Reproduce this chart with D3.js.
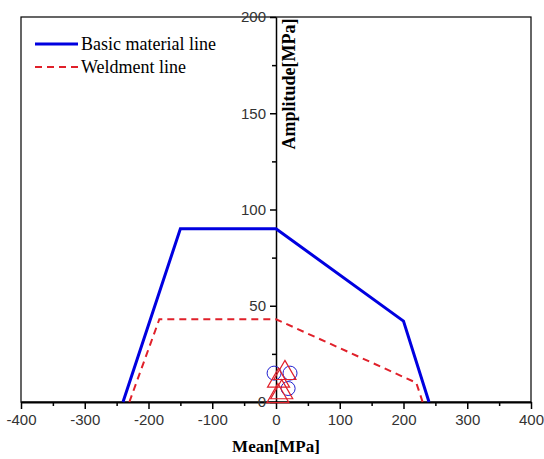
<!DOCTYPE html>
<html>
<head>
<meta charset="utf-8">
<script src="https://cdn.jsdelivr.net/npm/d3@7"></script>
<style>
  body { margin: 0; background: #fff; }
  svg { display: block; }
</style>
</head>
<body>
<svg id="chart" width="544" height="459"></svg>
<script>
// Haigh diagram data (Mean, Amplitude) in MPa
const baseMean = [-240, -150, 0, 200, 240];
const baseAmp = [0, 90, 90, 42, 0];
const weldMean = [-230, -183, 0, 220, 230];
const weldAmp = [0, 43, 43, 10, 0];
const circleMean = [-3, 22, 19];
const circleAmp = [15, 15, 7];
const triMean = [14, 4, 9, 3];
const triAmp = [15, 11, 5, 3];
const xTicks = [-400, -300, -200, -100, 0, 100, 200, 300, 400];
const yTicks = [0, 50, 100, 150, 200];
const legendLabels = ["Basic material line", "Weldment line"];

const svg = d3.select("#chart"),
    margin = { top: 17, right: 13, bottom: 57, left: 21 },
    width = +svg.attr("width") - margin.left - margin.right,
    height = +svg.attr("height") - margin.top - margin.bottom;

const g = svg.append("g")
    .attr("transform", "translate(" + margin.left + "," + margin.top + ")");

const xScale = d3.scaleLinear().domain([-400, 400]).range([0, width]);
const yScale = d3.scaleLinear().domain([0, 200]).range([height, 0]);

// frame
g.append("rect")
    .attr("width", width)
    .attr("height", height)
    .attr("fill", "none")
    .attr("stroke", "#000")
    .attr("stroke-width", 1.2);

// x axis: major + minor ticks
const xAxis = g.append("g")
    .attr("transform", "translate(0," + height + ")")
    .call(d3.axisBottom(xScale).tickValues(xTicks).tickFormat(d => String(d))
        .tickSize(7).tickPadding(5).tickSizeOuter(0));
g.append("g")
    .attr("transform", "translate(0," + height + ")")
    .call(d3.axisBottom(xScale).tickValues(d3.range(-350, 400, 100)).tickSize(4).tickFormat("").tickSizeOuter(0));
xAxis.select(".domain").attr("stroke-width", 2);

// y axis at Mean = 0
const yAxis = g.append("g")
    .attr("transform", "translate(" + xScale(0) + ",0)")
    .call(d3.axisLeft(yScale).tickValues(yTicks).tickFormat(d => String(d))
        .tickSize(6).tickPadding(4).tickSizeOuter(0));
g.append("g")
    .attr("transform", "translate(" + xScale(0) + ",0)")
    .call(d3.axisLeft(yScale).tickValues([25, 75, 125, 175]).tickSize(4).tickFormat("").tickSizeOuter(0));
yAxis.select(".domain").attr("stroke-width", 1.5);

g.selectAll(".tick line").attr("stroke-width", 1.5);
g.selectAll(".tick text")
    .style("font-family", "'Liberation Sans', Arial, sans-serif")
    .style("font-size", "15px")
    .attr("fill", "#333");

// lines
const line = d3.line().x(d => xScale(d[0])).y(d => yScale(d[1]));
g.append("path")
    .datum(baseMean.map((m, i) => [m, baseAmp[i]]))
    .attr("d", line)
    .attr("fill", "none")
    .attr("stroke", "#0000e0")
    .attr("stroke-width", 3);
g.append("path")
    .datum(weldMean.map((m, i) => [m, weldAmp[i]]))
    .attr("d", line)
    .attr("fill", "none")
    .attr("stroke", "#e0202a")
    .attr("stroke-width", 2)
    .attr("stroke-dasharray", "7,5");

// markers
g.selectAll(".pt-c")
    .data(circleMean.map((m, i) => [m, circleAmp[i]]))
    .enter().append("circle")
    .attr("cx", d => xScale(d[0]))
    .attr("cy", d => yScale(d[1]))
    .attr("r", 7)
    .attr("fill", "none")
    .attr("stroke", "#2020d0")
    .attr("stroke-width", 1);
const tri = d3.symbol().type(d3.symbolTriangle).size(210);
g.selectAll(".pt-t")
    .data(triMean.map((m, i) => [m, triAmp[i]]))
    .enter().append("path")
    .attr("d", tri)
    .attr("transform", d => "translate(" + xScale(d[0]) + "," + yScale(d[1]) + ")")
    .attr("fill", "none")
    .attr("stroke", "#e0202a")
    .attr("stroke-width", 1.2);

// axis titles
svg.append("text")
    .attr("x", margin.left + xScale(0))
    .attr("y", 452)
    .attr("text-anchor", "middle")
    .style("font-family", "'Liberation Serif', 'Times New Roman', serif")
    .style("font-weight", "bold")
    .style("font-size", "17px")
    .text("Mean[MPa]");
svg.append("text")
    .attr("transform", "translate(" + (margin.left + xScale(0) + 19) + ",84) rotate(-90)")
    .attr("text-anchor", "middle")
    .style("font-family", "'Liberation Serif', 'Times New Roman', serif")
    .style("font-weight", "bold")
    .style("font-size", "18px")
    .text("Amplitude[MPa]");

// legend
const legend = svg.append("g").attr("transform", "translate(35,44)");
legendLabels.forEach((label, i) => {
    const row = legend.append("g").attr("transform", "translate(0," + i * 23 + ")");
    row.append("line")
        .attr("x1", 0).attr("x2", 43)
        .attr("stroke", i === 0 ? "#0000e0" : "#e0202a")
        .attr("stroke-width", i === 0 ? 3 : 2)
        .attr("stroke-dasharray", i === 0 ? null : "7,5");
    row.append("text")
        .attr("x", 46)
        .attr("y", 6)
        .style("font-family", "'Liberation Serif', 'Times New Roman', serif")
        .style("font-size", "18px")
        .text(label);
});
</script>
</body>
</html>
